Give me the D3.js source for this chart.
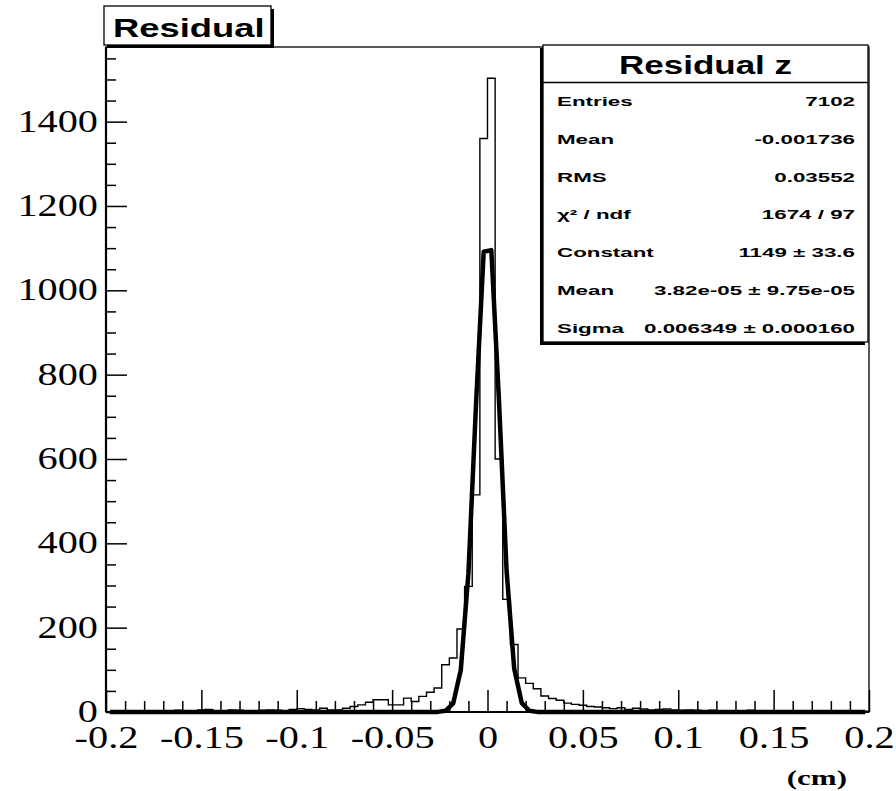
<!DOCTYPE html>
<html>
<head>
<meta charset="utf-8">
<script src="https://cdn.jsdelivr.net/npm/d3@7"></script>
<style>
  body { margin: 0; background: #fff; }
  svg { display: block; }
</style>
</head>
<body>
<svg width="896" height="791"></svg>
<script>

// histogram: 100 bins from -0.2 to 0.2 (cm)
var binLow = -0.2,
    binWidth = 0.004;

var counts = [
  1, 2, 1, 2, 1, 3, 2, 1, 3, 4, 2, 3, 5, 6, 3, 2, 5, 4, 3, 2, 4, 5, 4, 3, 6, 8,
  6, 5, 9, 5, 5, 9, 13, 17, 23, 29, 29, 17, 17, 33, 25, 37, 47, 57, 112, 128, 197, 298,
  515, 1360, 1503, 600, 267, 160,
  81, 68, 55, 38, 32, 28, 21, 18, 16, 13, 12, 10, 8, 10, 6, 9, 7, 5, 6, 7, 5, 4, 5, 4,
  3, 4, 3, 2, 3, 2, 4, 2, 3, 2, 1, 2, 3, 2, 1, 2, 3, 1, 2, 1, 1, 2
];

var xTicks = [-0.2, -0.15, -0.1, -0.05, 0, 0.05, 0.1, 0.15, 0.2];
var xTickLabels = ["-0.2", "-0.15", "-0.1", "-0.05", "0", "0.05", "0.1", "0.15", "0.2"];
var yTicks = [0, 200, 400, 600, 800, 1000, 1200, 1400];

var statNames = ["Entries", "Mean", "RMS", "\u03c7\u00b2 / ndf", "Constant", "Mean", "Sigma"];
var statValues = ["7102", "-0.001736", "0.03552", "1674 / 97", "1149 \u00b1 33.6",
                  "3.82e-05 \u00b1 9.75e-05", "0.006349 \u00b1 0.000160"];

// gaussian fit parameters (from the stats box)
var fitConstant = 1149,
    fitMean = 3.82e-05,
    fitSigma = 0.006349;

var svg = d3.select("svg"),
    margin = {top: 47, right: 27, bottom: 79, left: 106},
    width = +svg.attr("width") - margin.left - margin.right,
    height = +svg.attr("height") - margin.top - margin.bottom;

var x = d3.scaleLinear()
    .domain([-0.2, 0.2])
    .range([margin.left, margin.left + width]);

var y = d3.scaleLinear()
    .domain([0, 1577])
    .range([margin.top + height, margin.top]);

function stretched(parent, px, py, sx, txt) {
  return parent.append("text")
      .attr("transform", "translate(" + px + "," + py + ") scale(" + sx + ",1)")
      .text(txt);
}

// histogram outline
var bins = counts.map(function(c, i) { return [binLow + i * binWidth, c]; });
bins.push([binLow + counts.length * binWidth, counts[counts.length - 1]]);

var step = d3.line()
    .x(function(d) { return x(d[0]); })
    .y(function(d) { return y(d[1]); })
    .curve(d3.curveStepAfter);

svg.append("path")
    .datum(bins)
    .attr("fill", "none")
    .attr("stroke", "#000")
    .attr("stroke-width", 1.4)
    .attr("d", step);

// fit curve, evaluated at bin centres
var fitPts = counts.map(function(c, i) {
  var xc = binLow + (i + 0.5) * binWidth;
  return [xc, fitConstant * Math.exp(-0.5 * Math.pow((xc - fitMean) / fitSigma, 2))];
});

var line = d3.line()
    .x(function(d) { return x(d[0]); })
    .y(function(d) { return y(d[1]); });

svg.append("path")
    .datum(fitPts)
    .attr("fill", "none")
    .attr("stroke", "#000")
    .attr("stroke-width", 4.5)
    .attr("stroke-linejoin", "round")
    .attr("d", line);

// axes (ROOT style, ticks pointing inwards)
var xMinor = d3.range(-0.2, 0.2001, 0.01).filter(function(v) {
  return Math.abs(v / 0.05 - Math.round(v / 0.05)) > 1e-6;
});
var yMinor = d3.range(50, 1577, 50).filter(function(v) { return v % 200 !== 0; });

var xAxis = d3.axisBottom(x)
    .tickValues(xTicks)
    .tickFormat(function(d, i) { return xTickLabels[i]; })
    .tickSize(-22)
    .tickSizeOuter(0)
    .tickPadding(13);

var yAxis = d3.axisLeft(y)
    .tickValues(yTicks)
    .tickFormat(d3.format("d"))
    .tickSize(-21)
    .tickSizeOuter(0)
    .tickPadding(8);

var gx = svg.append("g")
    .attr("transform", "translate(0," + (margin.top + height) + ")")
    .call(xAxis);

svg.append("g")
    .attr("transform", "translate(0," + (margin.top + height) + ")")
    .call(d3.axisBottom(x).tickValues(xMinor).tickFormat("").tickSize(-11).tickSizeOuter(0))
    .select(".domain").remove();

var gy = svg.append("g")
    .attr("transform", "translate(" + margin.left + ",0)")
    .call(yAxis);

svg.append("g")
    .attr("transform", "translate(" + margin.left + ",0)")
    .call(d3.axisLeft(y).tickValues(yMinor).tickFormat("").tickSize(-10).tickSizeOuter(0))
    .select(".domain").remove();

svg.selectAll(".tick line").attr("stroke-width", 1.5);
gx.select(".domain").remove();
gy.select(".domain").remove();

gx.selectAll("text")
    .attr("transform", "scale(1.26,1)")
    .style("font-family", "'Liberation Serif', 'DejaVu Serif', serif")
    .style("font-size", "32px");

gy.selectAll("text")
    .attr("x", -8 / 1.26)
    .attr("dy", "0.3em")
    .attr("transform", "scale(1.26,1)")
    .style("font-family", "'Liberation Serif', 'DejaVu Serif', serif")
    .style("font-size", "32px");

// frame
svg.append("rect")
    .attr("x", margin.left)
    .attr("y", margin.top)
    .attr("width", width)
    .attr("height", height)
    .attr("fill", "none")
    .attr("stroke", "#000")
    .attr("stroke-width", 1.3);

svg.append("line")
    .attr("x1", margin.left).attr("x2", margin.left)
    .attr("y1", margin.top).attr("y2", margin.top + height)
    .attr("stroke", "#000").attr("stroke-width", 2.2);

svg.append("line")
    .attr("x1", margin.left).attr("x2", margin.left + width)
    .attr("y1", margin.top + height).attr("y2", margin.top + height)
    .attr("stroke", "#000").attr("stroke-width", 2);

// x axis unit
stretched(svg, 847, 785, 1.55, "(cm)")
    .attr("text-anchor", "end")
    .style("font-family", "'Liberation Serif', serif")
    .style("font-weight", "bold")
    .style("font-size", "20px");

// title box
var tb = svg.append("g");
tb.append("rect")
    .attr("x", 107).attr("y", 9)
    .attr("width", 167).attr("height", 39)
    .attr("fill", "#000");
tb.append("rect")
    .attr("x", 104).attr("y", 6)
    .attr("width", 167).attr("height", 39)
    .attr("fill", "#fff")
    .attr("stroke", "#000")
    .attr("stroke-width", 1.3);
stretched(tb, 113, 37, 1.4, "Residual")
    .style("font-family", "'Liberation Sans', Arial, sans-serif")
    .style("font-weight", "bold")
    .style("font-size", "26px");

// stats box
var sb = svg.append("g"),
    sbX = 543, sbY = 45, sbW = 325, sbH = 297;

sb.append("rect")
    .attr("x", sbX - 3).attr("y", sbY + 3)
    .attr("width", sbW).attr("height", sbH)
    .attr("fill", "#000");
sb.append("rect")
    .attr("x", sbX).attr("y", sbY)
    .attr("width", sbW).attr("height", sbH)
    .attr("fill", "#fff")
    .attr("stroke", "#000")
    .attr("stroke-width", 1.3);
sb.append("line")
    .attr("x1", sbX).attr("x2", sbX + sbW)
    .attr("y1", 82.5).attr("y2", 82.5)
    .attr("stroke", "#000")
    .attr("stroke-width", 1.3);

stretched(sb, sbX + sbW / 2, 73.5, 1.4, "Residual z")
    .attr("text-anchor", "middle")
    .style("font-family", "'Liberation Sans', Arial, sans-serif")
    .style("font-weight", "bold")
    .style("font-size", "25px");

var rowY = d3.scalePoint()
    .domain(d3.range(statNames.length))
    .range([106, 332.8]);

statNames.forEach(function(name, i) {
  stretched(sb, 557, rowY(i), 1.72, name)
      .style("font-family", "'Liberation Sans', Arial, sans-serif")
      .style("font-weight", "bold")
      .style("font-size", "13px");
  stretched(sb, 855, rowY(i), 1.72, statValues[i])
      .attr("text-anchor", "end")
      .style("font-family", "'Liberation Sans', Arial, sans-serif")
      .style("font-weight", "bold")
      .style("font-size", "13px");
});

</script>
</body>
</html>
